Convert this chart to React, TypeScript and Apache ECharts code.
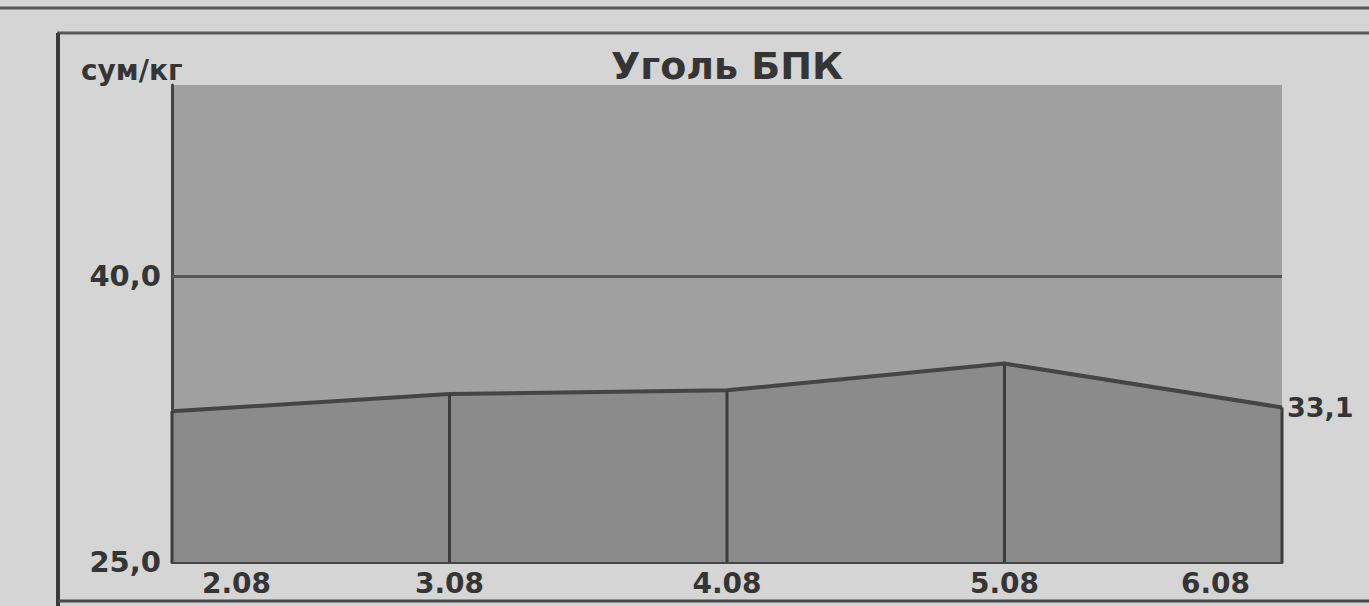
import React, { useEffect, useRef } from "react";
import * as echarts from "echarts";

const categories = ["2.08", "3.08", "4.08", "5.08", "6.08"];
const prices = [32.9, 33.8, 34.0, 35.4, 33.1];
const referenceLevel = 40;
const yMin = 25;
const yMax = 50;
const yInterval = 15;
const titleText = "Уголь БПК";
const unitText = "сум/кг";

const FONT = "DejaVu Sans";
const TEXT = "#353535";
const LINE = "#454545";

export default function App() {
  const ref = useRef<HTMLDivElement>(null);
  useEffect(() => {
    if (!ref.current) return;
    const chart = echarts.init(ref.current, null, { renderer: "svg" });
    const last = categories.length - 1;
    chart.setOption({
      animation: false,
      backgroundColor: "#d5d5d5",
      title: [
        {
          text: titleText,
          left: 606,
          top: 42,
          textStyle: { fontFamily: FONT, fontWeight: "bold", fontSize: 38, color: TEXT },
        },
        {
          text: unitText,
          left: 76,
          top: 51,
          textStyle: { fontFamily: FONT, fontWeight: "bold", fontSize: 28, color: TEXT },
        },
      ],
      grid: {
        left: 172,
        right: 87,
        top: 85,
        bottom: 44,
        show: true,
        backgroundColor: "#a0a0a0",
        borderWidth: 0,
      },
      xAxis: {
        type: "category",
        data: categories,
        boundaryGap: false,
        axisLine: { show: true, lineStyle: { color: LINE, width: 3 } },
        axisTick: { show: false },
        splitLine: { show: false },
        axisLabel: {
          margin: 7,
          fontFamily: FONT,
          fontWeight: "bold",
          fontSize: 28,
          color: TEXT,
          alignMinLabel: "left",
          alignMaxLabel: "right",
          formatter: (v: string, i: number) =>
            i === 0 ? "{f|" + v + "}" : i === last ? "{l|" + v + "}" : v,
          rich: {
            f: { padding: [0, 0, 0, 30], fontFamily: FONT, fontWeight: "bold", fontSize: 28, color: TEXT },
            l: { padding: [0, 32, 0, 0], fontFamily: FONT, fontWeight: "bold", fontSize: 28, color: TEXT },
          },
        },
      },
      yAxis: {
        type: "value",
        min: yMin,
        max: yMax,
        interval: yInterval,
        axisLine: { show: true, lineStyle: { color: LINE, width: 3 } },
        axisTick: { show: false },
        splitLine: { show: false },
        axisLabel: {
          showMaxLabel: false,
          margin: 11,
          fontFamily: FONT,
          fontWeight: "bold",
          fontSize: 29,
          color: TEXT,
          formatter: (v: number) => (v >= yMax ? "" : v.toFixed(1).replace(".", ",")),
        },
      },
      series: [
        {
          type: "line",
          data: prices,
          symbol: "none",
          lineStyle: { color: LINE, width: 4 },
          areaStyle: { color: "#8b8b8b", origin: "start", opacity: 1 },
          z: 3,
          endLabel: {
            show: true,
            distance: 5,
            fontFamily: FONT,
            fontWeight: "bold",
            fontSize: 27,
            color: TEXT,
            formatter: (p: any) => Number(p.value).toFixed(1).replace(".", ","),
          },
          markLine: {
            silent: true,
            symbol: "none",
            label: { show: false },
            lineStyle: { color: "#555555", width: 3, type: "solid" },
            data: [{ yAxis: referenceLevel }],
          },
        },
        {
          type: "bar",
          data: prices,
          barWidth: 3,
          itemStyle: { color: "#3c3c3c" },
          z: 4,
        },
      ],
      graphic: [
        { type: "line", shape: { x1: 0, y1: 8, x2: 1369, y2: 8 }, style: { stroke: "#5a5a5a", lineWidth: 3 } },
        { type: "line", shape: { x1: 57, y1: 33, x2: 1369, y2: 33 }, style: { stroke: "#5a5a5a", lineWidth: 3 } },
        { type: "line", shape: { x1: 58, y1: 33, x2: 58, y2: 606 }, style: { stroke: "#3a3a3a", lineWidth: 4 } },
        { type: "line", shape: { x1: 58, y1: 601, x2: 1369, y2: 601 }, style: { stroke: "#4a4a4a", lineWidth: 3 } },
      ],
    });
    return () => chart.dispose();
  }, []);
  return (
    <div
      ref={ref}
      style={{ position: "absolute", left: 0, top: 0, width: 1369, height: 606 }}
    />
  );
}
